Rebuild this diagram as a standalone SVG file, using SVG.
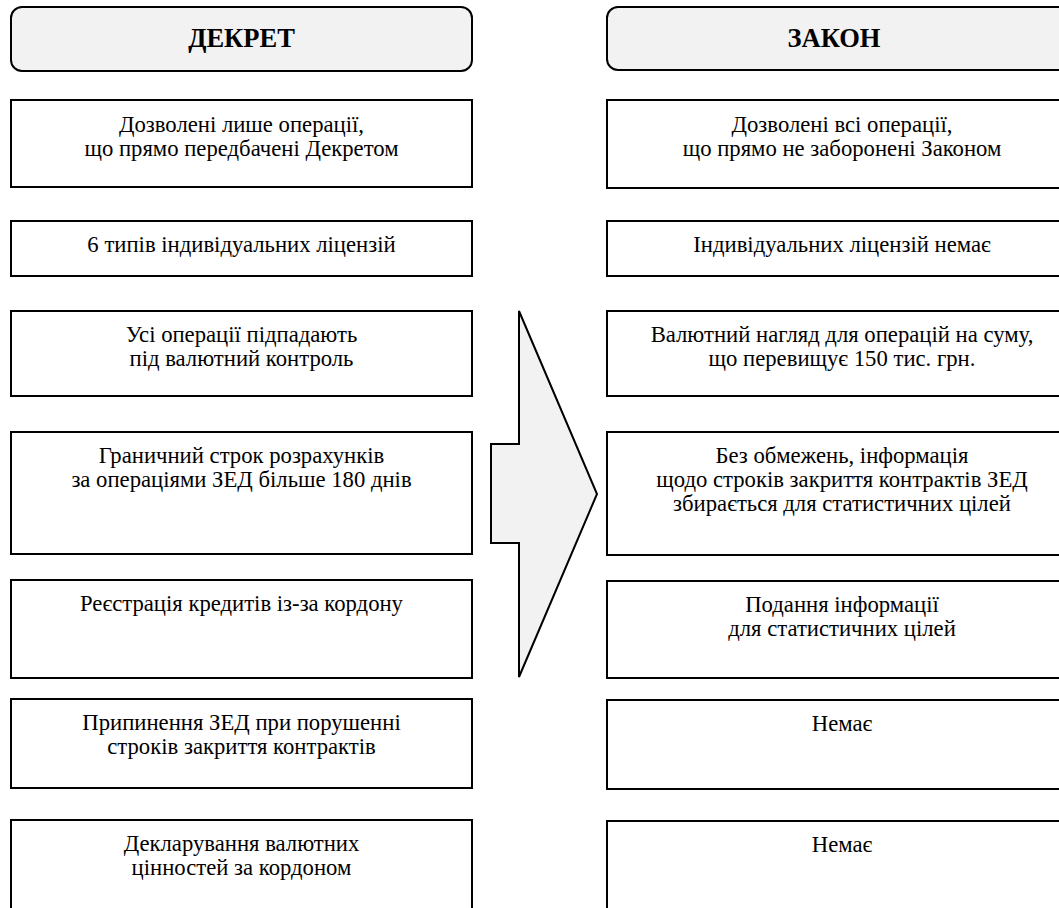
<svg xmlns="http://www.w3.org/2000/svg" width="1059" height="908" viewBox="0 0 1059 908">
<style>
.hdr{fill:#f2f2f2;stroke:#000;stroke-width:2}
.box{fill:#fff;stroke:#000;stroke-width:2}
.ht{font-size:26.5px;font-weight:bold;text-anchor:middle;fill:#000}
.t{font-size:22.7px;text-anchor:middle;fill:#000}
.arrow{fill:#f2f2f2;stroke:#000;stroke-width:2;stroke-linejoin:miter}
</style>
<rect width="1059" height="908" fill="#fff"/>
<g font-family="'Liberation Serif', 'Times New Roman', serif">
<g id="left-header"><rect class="hdr" x="11" y="7" width="461" height="64" rx="11"/><text class="ht" x="241.5" y="47">ДЕКРЕТ</text></g>
<g id="right-header"><rect class="hdr" x="607" y="7" width="470" height="63" rx="11"/><text class="ht" x="834" y="47">ЗАКОН</text></g>

<g id="l1"><rect class="box" x="11" y="100" width="461" height="87"/><text class="t" x="241.5" y="132">Дозволені лише операції,</text><text class="t" x="241.5" y="156">що прямо передбачені Декретом</text></g>
<g id="l2"><rect class="box" x="11" y="221" width="461" height="55"/><text class="t" x="241.5" y="252">6 типів індивідуальних ліцензій</text></g>
<g id="l3"><rect class="box" x="11" y="311" width="461" height="85"/><text class="t" x="241.5" y="342">Усі операції підпадають</text><text class="t" x="241.5" y="366">під валютний контроль</text></g>
<g id="l4"><rect class="box" x="11" y="432" width="461" height="122"/><text class="t" x="241.5" y="463">Граничний строк розрахунків</text><text class="t" x="241.5" y="487">за операціями ЗЕД більше 180 днів</text></g>
<g id="l5"><rect class="box" x="11" y="580" width="461" height="98"/><text class="t" x="241.5" y="611">Реєстрація кредитів із-за кордону</text></g>
<g id="l6"><rect class="box" x="11" y="699" width="461" height="89"/><text class="t" x="241.5" y="730">Припинення ЗЕД при порушенні</text><text class="t" x="241.5" y="754">строків закриття контрактів</text></g>
<g id="l7"><rect class="box" x="11" y="820" width="461" height="120"/><text class="t" x="241.5" y="851">Декларування валютних</text><text class="t" x="241.5" y="875">цінностей за кордоном</text></g>

<g id="r1"><rect class="box" x="607" y="100" width="470" height="88"/><text class="t" x="842" y="132">Дозволені всі операції,</text><text class="t" x="842" y="156">що прямо не заборонені Законом</text></g>
<g id="r2"><rect class="box" x="607" y="221" width="470" height="55"/><text class="t" x="842" y="252">Індивідуальних ліцензій немає</text></g>
<g id="r3"><rect class="box" x="607" y="311" width="470" height="85"/><text class="t" x="842" y="342">Валютний нагляд для операцій на суму,</text><text class="t" x="842" y="366">що перевищує 150 тис. грн.</text></g>
<g id="r4"><rect class="box" x="607" y="432" width="470" height="123"/><text class="t" x="842" y="463">Без обмежень, інформація</text><text class="t" x="842" y="487">щодо строків закриття контрактів ЗЕД</text><text class="t" x="842" y="511">збирається для статистичних цілей</text></g>
<g id="r5"><rect class="box" x="607" y="581" width="470" height="97"/><text class="t" x="842" y="612">Подання інформації</text><text class="t" x="842" y="636">для статистичних цілей</text></g>
<g id="r6"><rect class="box" x="607" y="700" width="470" height="89"/><text class="t" x="842" y="731">Немає</text></g>
<g id="r7"><rect class="box" x="607" y="821" width="470" height="120"/><text class="t" x="842" y="852">Немає</text></g>
</g>
<g id="connectors"><polygon class="arrow" points="519,311 519,444 491,444 491,543 519,543 519,677 597,494"/></g>
</svg>
